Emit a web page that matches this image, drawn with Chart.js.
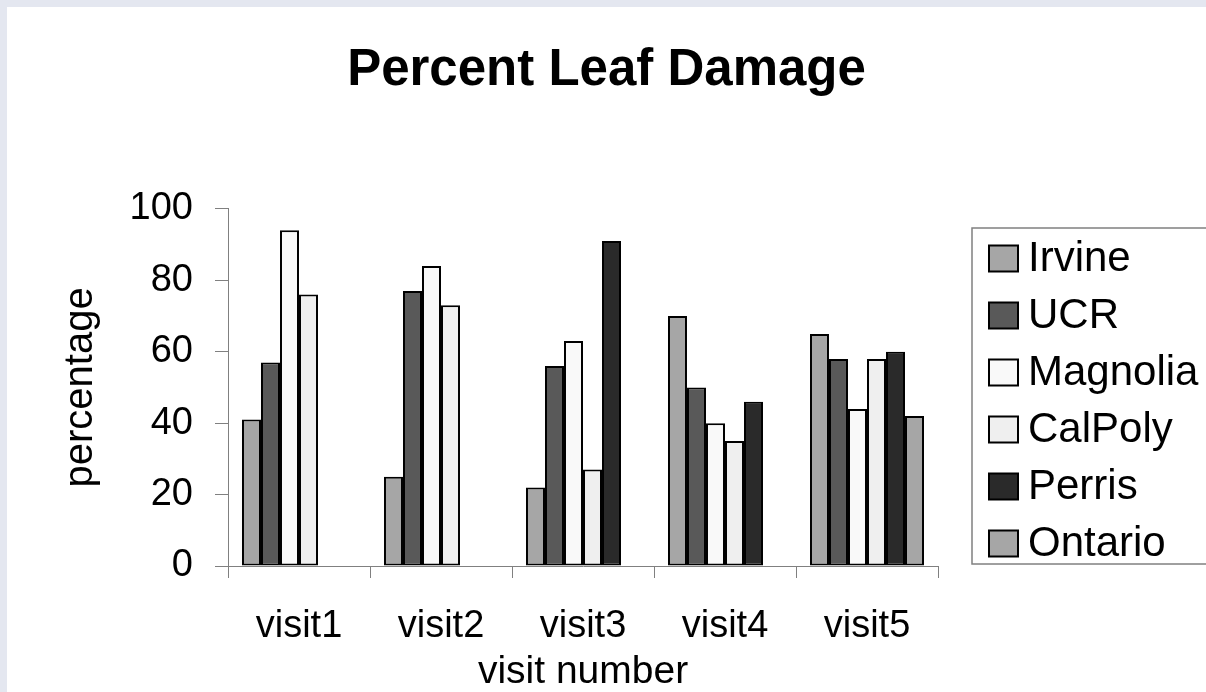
<!DOCTYPE html>
<html>
<head>
<meta charset="utf-8">
<script src="https://cdn.jsdelivr.net/npm/chart.js@4/dist/chart.umd.min.js"></script>
<style>
  body { margin: 0; background: #e4e7f0; width: 1206px; height: 692px; overflow: hidden; }
  #wrap { position: absolute; left: 7px; top: 7px; width: 1199px; height: 685px; background: #fff; }
</style>
</head>
<body>
<div id="wrap"><canvas id="myChart" width="1199" height="685"></canvas></div>
<script>
// categories and series
const visits = ["visit1", "visit2", "visit3", "visit4", "visit5"];
const irvine = [41, 25, 22, 70, 65];
const ucr = [57, 77, 56, 50, 58];
const magnolia = [94, 84, 63, 40, 44];
const calpoly = [76, 73, 27, 35, 58];
const perris = [null, null, 91, 46, 60];
const ontario = [null, null, null, null, 42];

const sites = ["Irvine", "UCR", "Magnolia", "CalPoly", "Perris", "Ontario"];
const series = [irvine, ucr, magnolia, calpoly, perris, ontario];
const fills = ["#a6a6a6", "#595959", "#f9f9f9", "#efefef", "#2a2a2a", "#a6a6a6"];

Chart.defaults.font.family = "'Liberation Sans', Arial, sans-serif";
Chart.defaults.color = "#000";

// boxed legend like the old excel one
const boxLegend = {
	id: "boxLegend",
	afterDraw(chart) {
		const ctx = chart.ctx;
		ctx.save();
		ctx.strokeStyle = "#808080";
		ctx.lineWidth = 1.5;
		ctx.strokeRect(965, 221, 260, 336);
		ctx.font = "42px 'Liberation Sans', Arial, sans-serif";
		ctx.textBaseline = "middle";
		ctx.textAlign = "left";
		chart.data.datasets.forEach((ds, i) => {
			const cy = 251.5 + i * 57;
			ctx.fillStyle = ds.backgroundColor;
			ctx.fillRect(982, cy - 13, 29, 26);
			ctx.strokeStyle = "#000";
			ctx.lineWidth = 2;
			ctx.strokeRect(982, cy - 13, 29, 26);
			ctx.fillStyle = "#000";
			ctx.fillText(ds.label, 1021, cy + 1);
		});
		ctx.restore();
	},
};

new Chart(document.getElementById("myChart"), {
	type: "bar",
	data: {
		labels: visits,
		datasets: sites.map((s, i) => ({
			label: s,
			data: series[i],
			backgroundColor: fills[i],
			borderColor: "#000",
			borderWidth: 2,
			borderSkipped: false,
			barPercentage: 1,
			categoryPercentage: 0.803,
		})),
	},
	options: {
		responsive: false,
		animation: false,
		devicePixelRatio: 1,
		layout: {
			padding: 0,
		},
		scales: {
			x: {
				grid: {
					drawOnChartArea: false,
					tickLength: 12,
					color: "#808080",
				},
				border: { color: "#808080" },
				ticks: { font: { size: 38 }, padding: 26, color: "#000" },
				title: {
					display: true,
					text: "visit number",
					font: { size: 39, lineHeight: 1 },
					padding: { top: 0, bottom: 0 },
					color: "#000",
				},
				afterFit: (s) => {
					s.height = 126;
				},
			},
			y: {
				min: 0,
				max: 100,
				grid: {
					drawOnChartArea: false,
					tickLength: 13,
					color: "#808080",
				},
				border: { color: "#808080" },
				ticks: { stepSize: 20, font: { size: 38 }, padding: 22, color: "#000" },
				title: {
					display: true,
					text: "percentage",
					font: { size: 40 },
					padding: { top: 50, bottom: 0 },
					color: "#000",
				},
				afterFit: (s) => {
					s.width = 221;
				},
			},
			// empty right axis, keeps room for the legend box
			y2: {
				position: "right",
				min: 0,
				max: 100,
				grid: { display: false },
				border: { display: false },
				ticks: { display: false },
				afterFit: (s) => {
					s.width = 268;
				},
			},
		},
		plugins: {
			title: {
				display: true,
				text: "Percent Leaf Damage",
				color: "#000",
				font: { size: 51, weight: "bold" },
				padding: { top: 33, bottom: 107.7 },
			},
			legend: { display: false },
			tooltip: { enabled: false },
		},
	},
	plugins: [boxLegend],
});
</script>
</body>
</html>
